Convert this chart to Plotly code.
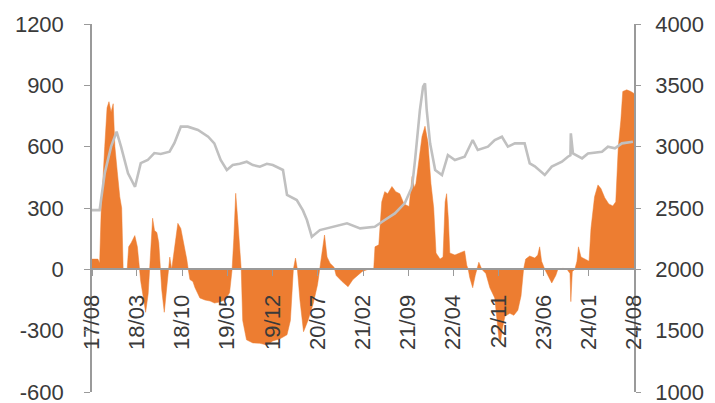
import plotly.graph_objects as go

# Orange series (left axis)
flow_dates = [
    "2017-08-01","2017-08-29","2017-09-06","2017-09-13","2017-09-30","2017-10-11","2017-10-20","2017-10-30",
    "2017-11-09","2017-11-17","2017-11-28","2017-12-10","2017-12-19","2017-12-26","2018-01-14","2018-01-21",
    "2018-02-02","2018-02-19","2018-03-03","2018-03-12","2018-03-19","2018-04-02","2018-04-11","2018-04-23",
    "2018-04-30","2018-05-07","2018-05-14","2018-05-23","2018-06-03","2018-06-12","2018-06-19","2018-06-26",
    "2018-07-08","2018-07-19","2018-07-26","2018-08-03","2018-08-12","2018-08-26","2018-09-10","2018-09-24",
    "2018-10-08","2018-10-22","2018-10-29","2018-11-06","2018-11-20","2018-11-30","2018-12-23","2019-01-16",
    "2019-02-09","2019-03-02","2019-03-26","2019-04-19","2019-05-12","2019-05-24","2019-06-01","2019-06-10",
    "2019-06-19","2019-06-29","2019-07-06","2019-07-13","2019-07-31","2019-08-30","2019-10-02","2019-11-04",
    "2019-12-02","2020-01-05","2020-02-07","2020-02-23","2020-03-08","2020-03-18","2020-03-27","2020-04-08",
    "2020-04-25","2020-05-16","2020-06-09","2020-06-30","2020-07-11","2020-07-25","2020-08-02","2020-08-14",
    "2020-08-28","2020-09-16","2020-09-26","2020-10-24","2020-11-21","2020-12-14","2021-01-03","2021-01-27",
    "2021-02-24","2021-03-22","2021-03-28","2021-04-15","2021-04-29","2021-05-13","2021-05-27","2021-06-16",
    "2021-07-04","2021-07-23","2021-08-12","2021-09-05","2021-09-19","2021-09-30","2021-10-07","2021-10-21",
    "2021-11-05","2021-11-19","2021-12-03","2021-12-17","2021-12-30","2022-01-10","2022-01-29","2022-02-12",
    "2022-02-22","2022-03-01","2022-03-09","2022-03-16","2022-04-09","2022-05-02","2022-05-25","2022-06-04",
    "2022-06-11","2022-06-18","2022-07-02","2022-07-14","2022-07-21","2022-07-31","2022-08-14","2022-09-02",
    "2022-09-21","2022-10-14","2022-10-25","2022-11-03","2022-11-10","2022-11-17","2022-12-01","2022-12-24",
    "2023-01-12","2023-01-31","2023-02-15","2023-02-27","2023-03-09","2023-03-28","2023-04-21","2023-05-05",
    "2023-05-14","2023-05-23","2023-06-07","2023-06-21","2023-07-10","2023-07-29","2023-08-08","2023-09-01",
    "2023-09-20","2023-10-04","2023-10-08","2023-10-15","2023-10-27","2023-11-06","2023-11-13","2023-11-25",
    "2023-12-14","2024-01-02","2024-01-11","2024-01-28","2024-02-13","2024-02-27","2024-03-16","2024-04-04",
    "2024-04-23","2024-05-07","2024-05-19","2024-05-31","2024-06-09","2024-06-28","2024-07-17","2024-08-01",
]
flow_values = [
    50, 50, 30, 275, 600, 790, 820, 770,
    810, 600, 480, 355, 300, 0, 0, 110,
    130, 165, 110, 0, -60, -150, -210, -120,
    0, 150, 250, 190, 180, 130, 0, -100,
    -210, -80, 0, 60, 0, 120, 225, 200,
    130, 50, 0, -50, -60, -90, -140, -150,
    -155, -165, -160, -150, -115, 0, 150, 372,
    250, 100, 0, -250, -345, -360, -362, -370,
    -350, -340, -320, -250, 0, 55, 0, -150,
    -305, -250, -170, -75, 0, 100, 168, 60,
    30, 10, -30, -60, -85, -50, -30, -10,
    0, 0, 110, 120, 330, 380, 370, 405,
    380, 370, 320, 307, 454, 400, 420, 520,
    650, 700, 620, 420, 300, 80, 50, 60,
    330, 370, 250, 80, 70, 80, 90, 20,
    0, -40, -90, -30, 0, 35, 0, -20,
    -90, -140, -250, -340, -360, -300, -230, -215,
    -225, -200, -130, 0, 50, 65, 55, 70,
    110, 40, 0, -30, -67, -30, 0, 5,
    0, -20, -158, -10, 0, 40, 110, 60,
    50, 40, 200, 355, 413, 395, 350, 320,
    310, 330, 600, 730, 870, 878, 870, 860,
]

# Gray series (right axis)
index_dates = [
    "2017-08-01","2017-09-06","2017-09-30","2017-10-30","2017-11-25","2017-12-16","2018-01-18","2018-02-20",
    "2018-03-19","2018-04-21","2018-05-22","2018-06-21","2018-08-02","2018-08-25","2018-09-24","2018-10-27",
    "2018-12-14","2019-01-31","2019-03-01","2019-03-31","2019-04-29","2019-05-27","2019-06-29","2019-08-01",
    "2019-08-30","2019-10-02","2019-11-04","2019-12-02","2020-01-19","2020-02-07","2020-03-24","2020-04-22",
    "2020-05-11","2020-06-03","2020-07-11","2020-09-11","2020-11-16","2021-01-17","2021-03-27","2021-05-13",
    "2021-06-30","2021-08-16","2021-09-19","2021-10-03","2021-10-26","2021-11-10","2021-11-19","2021-11-27",
    "2021-12-13","2022-01-06","2022-02-07","2022-03-07","2022-04-09","2022-05-25","2022-07-02","2022-07-26",
    "2022-09-12","2022-10-14","2022-11-17","2022-12-15","2023-01-17","2023-03-04","2023-03-28","2023-04-21",
    "2023-06-07","2023-07-10","2023-08-27","2023-09-24","2023-10-06","2023-10-08","2023-10-18","2023-11-30",
    "2023-12-28","2024-03-03","2024-03-31","2024-05-03","2024-06-05","2024-07-27",
]
index_values = [
    2483, 2483, 2783, 3000, 3122, 3000, 2783, 2673,
    2866, 2891, 2948, 2940, 2959, 3030, 3163, 3163,
    3136, 3081, 3027, 2891, 2810, 2850, 2860, 2877,
    2850, 2837, 2860, 2850, 2810, 2606, 2565, 2480,
    2402, 2266, 2320, 2347, 2375, 2334, 2347, 2402,
    2456, 2540, 2673, 2891, 3299, 3489, 3516, 3299,
    3027, 2810, 2769, 2932, 2891, 2918, 3054, 2973,
    3000, 3054, 3081, 3000, 3027, 3027, 2864, 2840,
    2769, 2837, 2877, 2918, 2930, 3109, 2945, 2905,
    2945, 2959, 3000, 2986, 3027, 3040,
]

tick_dates = ["2017-08-01","2018-03-01","2018-10-01","2019-05-01","2019-12-01","2020-07-01","2021-02-01",
              "2021-09-01","2022-04-01","2022-11-01","2023-06-01","2024-01-01","2024-08-01"]
tick_labels = ["17/08","18/03","18/10","19/05","19/12","20/07","21/02","21/09","22/04","22/11","23/06","24/01","24/08"]

left_ticks = [-600, -300, 0, 300, 600, 900, 1200]
left_labels = ["-600", "-300", "0", "300", "600", "900", "1200"]
right_ticks = [1000, 1500, 2000, 2500, 3000, 3500, 4000]
right_labels = ["1000", "1500", "2000", "2500", "3000", "3500", "4000"]

FONT = "Liberation Sans, Arial, sans-serif"
TXT = "#3a3a3a"
AX = "#9a9a9a"

fig = go.Figure()
fig.add_trace(go.Scatter(
    x=flow_dates, y=flow_values, mode="lines", line=dict(width=0.5, color="#ED7D31"),
    fill="tozeroy", fillcolor="#ED7D31", yaxis="y", showlegend=False, hoverinfo="skip"))
fig.add_trace(go.Scatter(
    x=index_dates, y=index_values, mode="lines", line=dict(width=2.6, color="#C0C0C0"),
    yaxis="y2", showlegend=False))

# The page body has an 8px default margin, so the figure is sized to fit the window.
fig.update_layout(
    width=707, height=395,
    margin=dict(l=84, r=81, t=16, b=11, autoexpand=False),
    paper_bgcolor="white", plot_bgcolor="white",
    font=dict(family=FONT, size=22, color=TXT),
    xaxis=dict(
        type="date", range=["2017-08-01", "2024-08-01"],
        tickmode="array", tickvals=tick_dates, ticktext=tick_labels, tickangle=-90,
        anchor="free", position=1/3, showline=True, linecolor=AX, linewidth=1.5,
        ticks="outside", ticklen=6, tickcolor=AX, showgrid=False, zeroline=False,
        ticklabelstandoff=10, ticklabeloverflow="allow", automargin=False,
        tickfont=dict(family=FONT, size=22, color=TXT)),
    yaxis=dict(
        range=[-600, 1200], tickmode="array", tickvals=left_ticks, ticktext=left_labels,
        showline=True, linecolor=AX, linewidth=1.5, ticks="outside", ticklen=6, tickcolor=AX,
        showgrid=False, zeroline=False, automargin=False, ticklabelstandoff=16,
        ticklabeloverflow="allow",
        tickfont=dict(family=FONT, size=22, color=TXT)),
    yaxis2=dict(
        range=[1000, 4000], tickmode="array", tickvals=right_ticks, ticktext=right_labels,
        overlaying="y", side="right",
        showline=True, linecolor=AX, linewidth=1.5, ticks="outside", ticklen=5, tickcolor=AX,
        showgrid=False, zeroline=False, automargin=False, ticklabelstandoff=10,
        ticklabeloverflow="allow",
        tickfont=dict(family=FONT, size=22, color=TXT)),
)

fig.write_html("out.html")
